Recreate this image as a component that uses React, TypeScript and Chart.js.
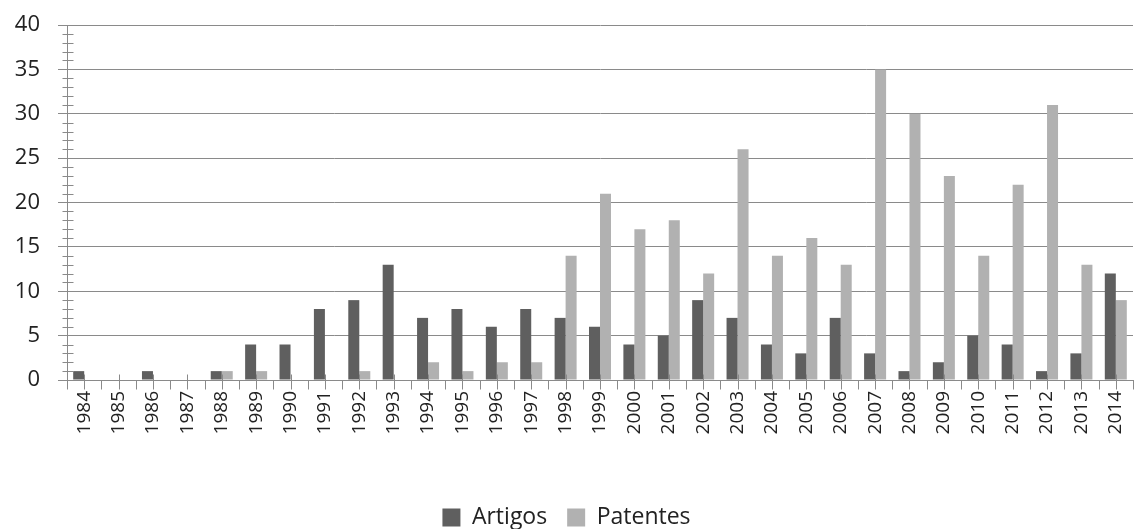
import React, { useEffect, useRef } from "react";
import { Chart, registerables } from "chart.js";

Chart.register(...registerables);

const years = ["1984","1985","1986","1987","1988","1989","1990","1991","1992","1993","1994","1995","1996","1997","1998","1999","2000","2001","2002","2003","2004","2005","2006","2007","2008","2009","2010","2011","2012","2013","2014"];
const artigos = [1,0,1,0,1,4,4,8,9,13,7,8,6,8,7,6,4,5,9,7,4,3,7,3,1,2,5,4,1,3,12];
const patentes = [0,0,0,0,1,1,0,0,1,0,2,1,2,2,14,21,17,18,12,26,14,16,13,35,30,23,14,22,31,13,9];
const yMax = 40;
const yMajorStep = 5;

const AXIS = "#8a8a8a";
const FONT = "'Open Sans', 'Liberation Sans', sans-serif";

const tickPlugin = {
  id: "excelTicks",
  afterDatasetsDraw(chart: any) {
    const { ctx, scales } = chart;
    const x = scales.x;
    const y = scales.y;
    ctx.save();
    ctx.strokeStyle = AXIS;
    ctx.lineWidth = 1;
    const ax = Math.round(y.right) + 0.5;
    for (let v = 0; v <= yMax; v++) {
      if (v % yMajorStep === 0) continue;
      const py = Math.round(y.getPixelForValue(v)) + 0.5;
      ctx.beginPath();
      ctx.moveTo(ax - 5, py);
      ctx.lineTo(ax + 6, py);
      ctx.stroke();
    }
    const ay = Math.round(x.top) + 0.5;
    const n = years.length;
    const w = n > 1 ? x.getPixelForValue(1) - x.getPixelForValue(0) : x.width;
    for (let i = 0; i < n; i++) {
      const c = Math.round(x.getPixelForValue(i)) + 0.5;
      ctx.beginPath();
      ctx.moveTo(c, ay - 6);
      ctx.lineTo(c, ay + 9);
      ctx.stroke();
      const b = Math.round(x.getPixelForValue(i) - w / 2) + 0.5;
      ctx.beginPath();
      ctx.moveTo(b, ay);
      ctx.lineTo(b, ay + 9);
      ctx.stroke();
    }
    const last = Math.round(x.getPixelForValue(n - 1) + w / 2) + 0.5;
    ctx.beginPath();
    ctx.moveTo(last, ay);
    ctx.lineTo(last, ay + 9);
    ctx.stroke();
    ctx.restore();
  },
};

export default function App() {
  const ref = useRef<HTMLCanvasElement | null>(null);

  useEffect(() => {
    document.body.style.margin = "0";
    if (!ref.current) return;
    const chart = new Chart(ref.current, {
      type: "bar",
      data: {
        labels: years,
        datasets: [
          { label: "Artigos", data: artigos, backgroundColor: "#5f5f5f", categoryPercentage: 0.64, barPercentage: 1 },
          { label: "Patentes", data: patentes, backgroundColor: "#b1b1b1", categoryPercentage: 0.64, barPercentage: 1 },
        ],
      },
      options: {
        animation: false,
        responsive: false,
        maintainAspectRatio: false,
        layout: { padding: { top: 25, right: 2, left: 0, bottom: -10 } },
        plugins: {
          tooltip: { enabled: false },
          legend: {
            position: "bottom",
            labels: {
              boxWidth: 18,
              boxHeight: 18,
              padding: 20,
              color: "#222",
              font: { family: FONT, size: 23 },
            },
          },
        },
        scales: {
          x: {
            offset: true,
            grid: { display: false, drawTicks: false },
            border: { display: true, color: AXIS, width: 1 },
            ticks: {
              autoSkip: false,
              minRotation: 90,
              maxRotation: 90,
              padding: 11,
              color: "#222",
              font: { family: FONT, size: 19 },
            },
            afterFit: (s: any) => { s.height = 106; s.paddingLeft = 0; s.paddingRight = 0; },
          },
          y: {
            min: 0,
            max: yMax,
            grid: {
              color: (c: any) => (c.tick && c.tick.value % yMajorStep === 0 ? AXIS : "rgba(0,0,0,0)"),
              tickColor: (c: any) => (c.tick && c.tick.value % yMajorStep === 0 ? AXIS : "rgba(0,0,0,0)"),
              tickLength: 9,
              lineWidth: 1,
            },
            border: { display: true, color: AXIS, width: 1 },
            ticks: {
              stepSize: 1,
              autoSkip: false,
              padding: 18,
              color: "#222",
              font: { family: FONT, size: 22 },
              callback: (v: any) => (Number(v) % yMajorStep === 0 ? String(v) : ""),
            },
            afterFit: (s: any) => { s.width = 67; s.paddingTop = 0; s.paddingBottom = 0; },
          },
        },
      },
      plugins: [tickPlugin],
    });
    return () => chart.destroy();
  }, []);

  return (
    <div style={{ width: 1135, height: 529 }}>
      <canvas ref={ref} width={1135} height={529} style={{ display: "block" }} />
    </div>
  );
}
